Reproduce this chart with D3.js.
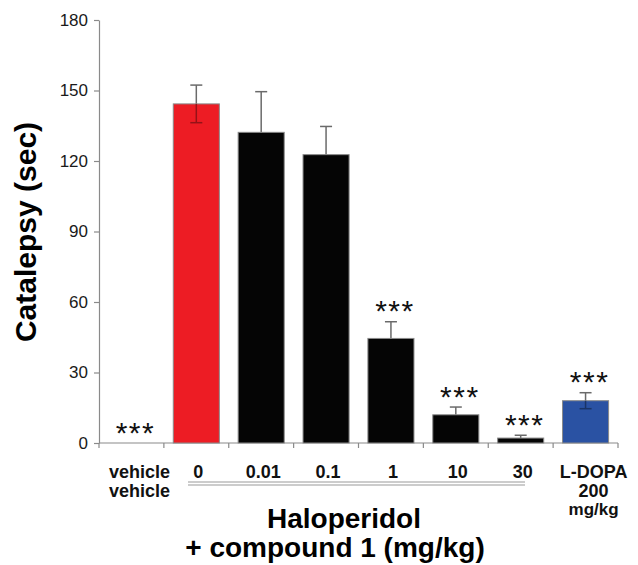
<!DOCTYPE html>
<html>
<head>
<meta charset="utf-8">
<script src="https://cdn.jsdelivr.net/npm/d3@7/dist/d3.min.js"></script>
<style>
  html, body { margin: 0; padding: 0; background: #fff; }
  svg { display: block; }
  text { font-family: "Liberation Sans", Arial, sans-serif; }
</style>
</head>
<body>
<svg id="chart" width="638" height="565"></svg>
<script>
// ---- data ----
const categories = ["vehicle", "0", "0.01", "0.1", "1", "10", "30", "L-DOPA"];
const categoryLabels = [["vehicle", "vehicle"], ["0"], ["0.01"], ["0.1"], ["1"], ["10"], ["30"], ["L-DOPA", "200", "mg/kg"]];
const means = [0, 144.3, 132.2, 122.7, 44.5, 12.0, 2.1, 18.0];
const sems  = [0, 8.0, 17.3, 12.0, 7.1, 3.3, 1.2, 3.4];
const signif = ["***", "", "", "", "***", "***", "***", "***"];
const barColors = ["#050505", "#ed1c24", "#050505", "#050505", "#050505", "#050505", "#050505", "#2a52a3"];
const yTicks = [0, 30, 60, 90, 120, 150, 180];
const yTitle = "Catalepsy (sec)";
const groupTitle = ["Haloperidol", "+ compound 1 (mg/kg)"];

(function () {
// ---- layout ----
const svg = d3.select("#chart");
const mLeft = 99, mRight = 618, mTop = 20, mBottom = 443;

const x = d3.scaleBand().domain(categories).range([mLeft, mRight]).paddingInner(0.29).paddingOuter(0.145);
const y = d3.scaleLinear().domain([0, 180]).range([mBottom, mTop]);
const step = x.step();
const gap = step * x.paddingInner();

// y axis
const yAxis = d3.axisLeft(y).tickValues(yTicks).tickSize(5).tickPadding(6).tickSizeOuter(0);
const gy = svg.append("g").attr("transform", `translate(${mLeft},0)`).call(yAxis);
gy.select(".domain").attr("stroke", "#8a8a8a").attr("stroke-width", 1.2);
gy.selectAll(".tick line").attr("stroke", "#8a8a8a").attr("stroke-width", 1.2);
gy.selectAll(".tick text").attr("font-size", 17).attr("fill", "#1a1a1a")
  .attr("font-family", "'Liberation Sans', Arial, sans-serif");

// x axis line + boundary ticks
svg.append("line").attr("x1", mLeft).attr("x2", mRight).attr("y1", mBottom).attr("y2", mBottom)
  .attr("stroke", "#8a8a8a").attr("stroke-width", 1.2);
const boundaries = categories.map(c => x(c) - gap / 2).concat([mRight]);
svg.selectAll(".xt").data(boundaries).join("line")
  .attr("x1", d => d).attr("x2", d => d).attr("y1", mBottom).attr("y2", mBottom + 5)
  .attr("stroke", "#8a8a8a").attr("stroke-width", 1.2);

const data = categories.map((c, i) => ({ c, m: means[i], s: sems[i], sig: signif[i], col: barColors[i], lab: categoryLabels[i] }));
const cxf = d => x(d.c) + x.bandwidth() / 2;
const capW = 12;

// upper whiskers
const up = svg.append("g").selectAll("g").data(data.filter(d => d.s > 0)).join("g");
up.append("line")
  .attr("x1", cxf).attr("x2", cxf)
  .attr("y1", d => y(d.m)).attr("y2", d => y(d.m + d.s))
  .attr("stroke", "#6a6a6a").attr("stroke-width", 1.5);
up.append("line")
  .attr("x1", d => cxf(d) - capW / 2).attr("x2", d => cxf(d) + capW / 2)
  .attr("y1", d => y(d.m + d.s)).attr("y2", d => y(d.m + d.s))
  .attr("stroke", "#6a6a6a").attr("stroke-width", 1.5);

// bars
svg.append("g").selectAll("rect").data(data.filter(d => d.m > 0)).join("rect")
  .attr("x", d => x(d.c)).attr("width", x.bandwidth())
  .attr("y", d => y(d.m)).attr("height", d => y(0) - y(d.m))
  .attr("fill", d => d.col).attr("stroke", "#8a8a8a").attr("stroke-width", 1);

// lower whiskers, only visible on coloured bars (darker shade of the bar colour)
const lowCol = d => d3.color(d.col).darker(1.3).formatHex();
const isLight = d => d3.hsl(d.col).l > 0.2;
const lo = svg.append("g").selectAll("g").data(data.filter(d => d.s > 0 && isLight(d))).join("g");
lo.append("line")
  .attr("x1", cxf).attr("x2", cxf)
  .attr("y1", d => y(d.m)).attr("y2", d => y(Math.max(0, d.m - d.s)))
  .attr("stroke", lowCol).attr("stroke-width", 1.5);
lo.append("line")
  .attr("x1", d => cxf(d) - capW / 2).attr("x2", d => cxf(d) + capW / 2)
  .attr("y1", d => y(Math.max(0, d.m - d.s))).attr("y2", d => y(Math.max(0, d.m - d.s)))
  .attr("stroke", lowCol).attr("stroke-width", 1.5);

// significance stars
svg.selectAll(".sig").data(data.filter(d => d.sig)).join("text")
  .attr("x", d => cxf(d) + 4)
  .attr("y", d => y(d.m + d.s) - 22)
  .attr("dy", "0.72em")
  .attr("text-anchor", "middle")
  .attr("font-size", 30).attr("letter-spacing", 1.5).attr("fill", "#111")
  .text(d => d.sig);

// category labels
const lineY = [478, 497, 515];
data.forEach((d) => {
  const cx = cxf(d) + (d.lab.length > 1 ? 8 : 2);
  d.lab.forEach((t, j) => {
    svg.append("text").attr("x", cx).attr("y", lineY[j])
      .attr("text-anchor", "middle").attr("font-size", j === 2 ? 17 : 18).attr("font-weight", "bold")
      .attr("fill", "#111").text(t);
  });
});

// double line under haloperidol group
const gx1 = 188, gx2 = 525;
[482, 485].forEach(yy => svg.append("line").attr("x1", gx1).attr("x2", gx2).attr("y1", yy).attr("y2", yy)
  .attr("stroke", "#9a9a9a").attr("stroke-width", 1.2));

// group title
const titleX = [344, 335];
groupTitle.forEach((t, j) => {
  svg.append("text").attr("x", titleX[j]).attr("y", 528 + j * 29)
    .attr("text-anchor", "middle").attr("font-size", 28).attr("font-weight", "bold")
    .attr("fill", "#000").text(t);
});

// y title
svg.append("text").attr("transform", `translate(36,232) rotate(-90)`)
  .attr("text-anchor", "middle").attr("font-size", 30).attr("font-weight", "bold")
  .attr("fill", "#000").text(yTitle);
})();
</script>
</body>
</html>
